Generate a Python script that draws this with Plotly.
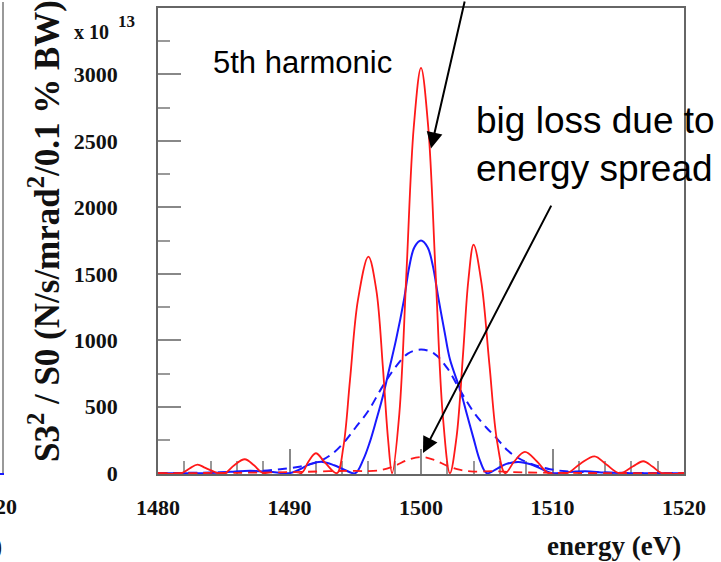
import plotly.graph_objects as go

# Spectral flux of the 5th harmonic around 1500 eV (units of 1e13)
red_solid_x = [1480, 1481.8, 1482.4, 1483.0, 1483.6, 1484.6, 1485.1, 1485.8, 1486.6, 1487.3,
               1488.0, 1490.9, 1491.4, 1492.0, 1492.7, 1493.6, 1494.1, 1494.6, 1495.2, 1496.0,
               1496.6, 1497.1, 1497.5, 1497.8, 1498.35, 1498.9, 1499.45, 1500.0, 1500.55, 1501.1,
               1501.65, 1502.2, 1502.7, 1503.2, 1503.6, 1504.0, 1504.6, 1505.2, 1505.8, 1506.4,
               1507.1, 1507.9, 1508.8, 1509.7, 1511.1, 1512.1, 1513.2, 1514.1, 1515.1, 1516.1,
               1516.9, 1517.6, 1518.3, 1520]
red_solid_y = [0, 0, 35, 65, 40, 0, 0, 60, 105, 60,
               0, 0, 80, 150, 80, 0, 200, 700, 1300, 1630,
               1380, 800, 250, 0, 445, 1525, 2605, 3050, 2605, 1525,
               445, 0, 270, 900, 1450, 1720, 1430, 820, 230, 0,
               90, 160, 90, 0, 0, 70, 127, 65, 0, 50,
               90, 50, 0, 0]

red_dash_x = [1480, 1486, 1490, 1493, 1494.5, 1496, 1497, 1498, 1499, 1500,
              1501, 1502, 1503, 1504, 1505.5, 1507, 1510, 1520]
red_dash_y = [0, 3, 8, 15, 18, 15, 25, 55, 100, 122,
              100, 55, 25, 12, 15, 8, 3, 0]

blue_solid_x = [1480, 1484, 1485.5, 1487, 1488.5, 1490, 1490.8, 1491.6, 1492.5, 1493.4,
                1494.3, 1495.0, 1495.6, 1496.1, 1496.6, 1497.1, 1497.6, 1498.1, 1498.7, 1499.1,
                1499.5, 1500.0, 1500.5, 1500.9, 1501.3, 1501.8, 1502.2, 1503.0, 1503.5, 1504.0,
                1504.5, 1505.0, 1505.8, 1506.5, 1507.4, 1508.4, 1509.3, 1510, 1511, 1512.5,
                1514, 1516, 1520]
blue_solid_y = [0, 2, 10, 18, 10, 0, 30, 70, 85, 60,
                20, 0, 100, 232, 400, 579, 790, 1003, 1302, 1550,
                1700, 1750, 1700, 1560, 1330, 1060, 857, 620, 440, 260,
                90, 0, 35, 70, 85, 65, 25, 0, 8, 15,
                5, 0, 0]

blue_dash_x = [1480, 1484, 1486, 1488, 1489.3, 1490.5, 1491.3, 1492.3, 1493.3, 1494.3,
               1495, 1496, 1497, 1498, 1499, 1500, 1501, 1502, 1503, 1504,
               1505, 1505.6, 1506.6, 1507.3, 1508.1, 1509, 1509.8, 1511, 1513, 1515, 1520]
blue_dash_y = [0, 5, 10, 18, 30, 45, 60, 90, 150, 250,
               340, 470, 640, 790, 900, 930, 900, 790, 620, 460,
               340, 280, 170, 120, 80, 50, 30, 15, 8, 3, 0]

x_ticks = [1480, 1490, 1500, 1510, 1520]
y_ticks = [0, 500, 1000, 1500, 2000, 2500, 3000]

RED = "rgb(255,25,25)"
BLUE = "rgb(25,25,255)"
SERIF = "Liberation Serif"
SANS = "Liberation Sans"

W, H = 721, 562
L, R, T, B = 158, 37, 6, 88
PW, PH = W - L - R, H - T - B


def px(xp):
    return (xp - L) / PW


def py(yp):
    return (H - B - yp) / PH


def label(text, xp, yp, font, xanchor="center", yanchor="middle", **kw):
    return dict(text=text, x=px(xp), y=py(yp), xref="paper", yref="paper",
                xanchor=xanchor, yanchor=yanchor, showarrow=False, font=font, **kw)


fig = go.Figure()
fig.add_trace(go.Scatter(x=blue_dash_x, y=blue_dash_y, mode="lines",
                         line=dict(color=BLUE, width=2, dash="9px,6px", shape="spline")))
fig.add_trace(go.Scatter(x=blue_solid_x, y=blue_solid_y, mode="lines",
                         line=dict(color=BLUE, width=2, shape="spline")))
fig.add_trace(go.Scatter(x=red_dash_x, y=red_dash_y, mode="lines",
                         line=dict(color=RED, width=1.8, dash="9px,6px", shape="spline")))
fig.add_trace(go.Scatter(x=red_solid_x, y=red_solid_y, mode="lines",
                         line=dict(color=RED, width=1.8, shape="spline")))

tickfont = dict(family=SERIF, size=22, color="#111", weight="bold")
titlefont = dict(family=SERIF, size=27, color="#111", weight="bold")

fig.update_xaxes(range=[1480, 1520], tickvals=x_ticks, ticks="inside", ticklen=25,
                 tickwidth=1.5, tickcolor="#888", showline=True, linecolor="#666",
                 linewidth=1.5, mirror=True, showgrid=False, zeroline=False,
                 tickfont=tickfont, ticklabelstandoff=13, layer="below traces",
                 minor=dict(dtick=2, tick0=1480, ticks="inside", ticklen=13,
                            tickwidth=1.5, tickcolor="#999", showgrid=False))
fig.update_yaxes(range=[-6, 3500], tickvals=y_ticks, ticks="inside", ticklen=23,
                 tickwidth=1.5, tickcolor="#888", showline=True, linecolor="#666",
                 linewidth=1.5, mirror=True, showgrid=False, zeroline=False,
                 tickfont=tickfont, ticklabelstandoff=34, layer="below traces",
                 minor=dict(tickvals=[250, 750, 1250, 1750, 2250, 2750, 3250],
                            ticks="inside", ticklen=12, tickwidth=1.5,
                            tickcolor="#999", showgrid=False))

ann = [
    # axis titles and exponent
    label("S3<sup>2</sup> / S0 (N/s/mrad<sup>2</sup>/0.1 % BW)", 44, 230,
          dict(family=SERIF, size=35, color="#111", weight="bold"), textangle=-90),
    label("energy (eV)", 683, 546, titlefont, xanchor="right"),
    label("x 10", 91, 30, dict(family=SERIF, size=20, color="#111", weight="bold")),
    label("13", 126, 20, dict(family=SERIF, size=17, color="#111", weight="bold")),
    # edge of the neighbouring panel
    label("1520", 19, 507, tickfont, xanchor="right"),
    label("energy (eV)", 4, 546, titlefont, xanchor="right"),
    # callouts
    label("5th harmonic", 211, 61, dict(family=SANS, size=31, color="#000"), xanchor="left"),
    label("big loss due to<br>energy spread", 474, 143, dict(family=SANS, size=37, color="#000"),
          xanchor="left", align="left"),
    dict(text="", x=px(431), y=py(147), xref="paper", yref="paper",
         showarrow=True, ax=34, ay=-157, arrowhead=2, arrowsize=1.6,
         arrowwidth=2, arrowcolor="#000"),
    dict(text="", x=px(423), y=py(453), xref="paper", yref="paper",
         showarrow=True, ax=129, ay=-249, arrowhead=2, arrowsize=1.6,
         arrowwidth=2, arrowcolor="#000"),
]

shapes = [
    dict(type="line", xref="paper", yref="paper", x0=px(3), x1=px(3), y0=py(0), y1=py(474),
         line=dict(color="#777", width=1.5)),
    dict(type="line", xref="paper", yref="paper", x0=px(0), x1=px(4), y0=py(474), y1=py(474),
         line=dict(color=BLUE, width=2)),
]

fig.update_layout(width=W, height=H, margin=dict(l=L, r=R, t=T, b=B),
                  paper_bgcolor="white", plot_bgcolor="white", showlegend=False,
                  annotations=ann, shapes=shapes)

fig.write_html("out.html")
